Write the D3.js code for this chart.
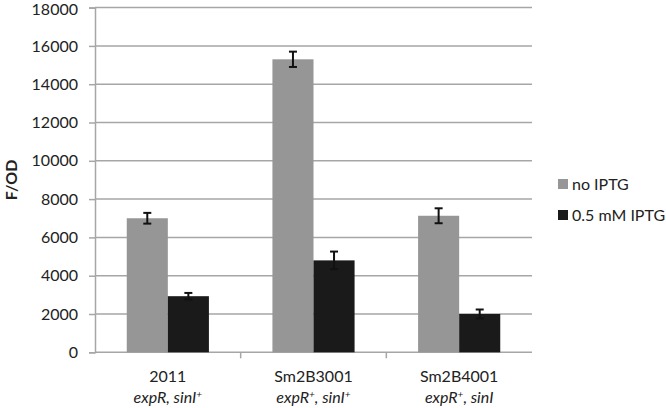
<!DOCTYPE html>
<html><head><meta charset="utf-8">
<script src="https://cdn.jsdelivr.net/npm/d3@7"></script>
<style>body{margin:0;background:#fff}svg{display:block}</style>
</head><body>
<svg id="c" width="666" height="408"></svg>
<script>
const categories = ["2011", "Sm2B3001", "Sm2B4001"];
const genotypes = [["expR, sinI", "+"], ["expR", "+", ", sinI", "+"], ["expR", "+", ", sinI", ""]];
const seriesNames = ["no IPTG", "0.5 mM IPTG"];
const noIPTG = [7000, 15300, 7130];
const noIPTGErr = [280, 400, 390];
const mmIPTG = [2930, 4800, 2000];
const mmIPTGErr = [170, 460, 235];
const yTicks = [0, 2000, 4000, 6000, 8000, 10000, 12000, 14000, 16000, 18000];
const colors = ["#969696", "#1a1a1a"];

const svg = d3.select("#c");
const font = "Lato, 'Open Sans', sans-serif";
const fs = 16;
const m = {l: 95, r: 532, t: 7.6, b: 352.3};
const y = d3.scaleLinear().domain([0, 18000]).range([m.b, m.t]);
const x = d3.scaleBand().domain(categories).range([m.l, m.r]).paddingInner(0).paddingOuter(0);
const bw = x.bandwidth() * 0.282;
const x1 = d3.scaleBand().domain(seriesNames).range([0, bw * 2]);

// gridlines
svg.append("g").selectAll("line").data(yTicks.filter(d => d > 0)).join("line")
  .attr("x1", m.l).attr("x2", m.r).attr("y1", d => y(d)).attr("y2", d => y(d))
  .attr("stroke", "#a6a6a6").attr("stroke-width", 1.5);

// y axis
const ya = svg.append("g").attr("transform", `translate(${m.l},0)`)
  .call(d3.axisLeft(y).tickValues(yTicks).tickSize(6).tickPadding(11).tickFormat(d3.format("d")));
ya.select(".domain").attr("stroke", "#a6a6a6").attr("stroke-width", 1.5);
ya.selectAll(".tick line").attr("stroke", "#a6a6a6").attr("stroke-width", 1.5);
ya.selectAll("text").attr("font-family", font).attr("font-size", fs).attr("fill", "#222");
ya.selectAll(".tick").filter(d => d === 18000).select("text").attr("dy", "0.4em");

// x axis
const xa = svg.append("g").attr("transform", `translate(0,${m.b})`);
xa.append("line").attr("x1", m.l).attr("x2", m.r).attr("y1", 0).attr("y2", 0)
  .attr("stroke", "#a6a6a6").attr("stroke-width", 1.5);
xa.selectAll(".tk").data(categories.slice(1)).join("line").attr("class", "tk")
  .attr("x1", d => x(d)).attr("x2", d => x(d)).attr("y1", 0).attr("y2", 6)
  .attr("stroke", "#a6a6a6").attr("stroke-width", 1.5);

const series = [
  {name: seriesNames[0], vals: noIPTG, err: noIPTGErr, color: colors[0]},
  {name: seriesNames[1], vals: mmIPTG, err: mmIPTGErr, color: colors[1]}
];
const bx = (s, i) => x(categories[i]) + x.bandwidth() / 2 - bw + x1(s.name);

series.forEach(s => {
  const g = svg.append("g");
  g.selectAll("rect").data(s.vals).join("rect")
    .attr("x", (d, i) => bx(s, i)).attr("width", x1.bandwidth())
    .attr("y", d => y(d)).attr("height", d => y(0) - y(d))
    .attr("fill", s.color);
  const eg = g.selectAll("g.e").data(s.vals).join("g").attr("class", "e");
  const cx = (i) => bx(s, i) + x1.bandwidth() / 2;
  eg.append("line").attr("x1", (d, i) => cx(i)).attr("x2", (d, i) => cx(i))
    .attr("y1", (d, i) => y(d + s.err[i])).attr("y2", (d, i) => y(d - s.err[i]))
    .attr("stroke", "#111").attr("stroke-width", 2);
  [1, -1].forEach(sg => {
    eg.append("line").attr("x1", (d, i) => cx(i) - 4).attr("x2", (d, i) => cx(i) + 4)
      .attr("y1", (d, i) => y(d + sg * s.err[i])).attr("y2", (d, i) => y(d + sg * s.err[i]))
      .attr("stroke", "#111").attr("stroke-width", 2);
  });
});

// category labels
const lab = svg.append("g").attr("font-family", font).attr("font-size", fs).attr("fill", "#222").attr("text-anchor", "middle");
categories.forEach((c, i) => {
  const cx = x(c) + x.bandwidth() / 2;
  lab.append("text").attr("x", cx).attr("y", 382).text(c);
  const t = lab.append("text").attr("x", cx).attr("y", 403).attr("font-style", "italic");
  const parts = genotypes[i];
  if (i === 0) {
    t.append("tspan").text("expR, sinI");
    t.append("tspan").attr("font-size", 10).attr("dy", -5).text("+");
  } else {
    t.append("tspan").text("expR");
    t.append("tspan").attr("font-size", 10).attr("dy", -5).text("+");
    t.append("tspan").attr("dy", 5).text(", sinI");
    if (parts[3]) t.append("tspan").attr("font-size", 10).attr("dy", -5).text("+");
  }
});

// y title
svg.append("text").attr("transform", "translate(17,180) rotate(-90)")
  .attr("text-anchor", "middle").attr("font-family", font).attr("font-weight", "bold")
  .attr("font-size", fs).attr("fill", "#222").text("F/OD");

// legend
const lg = svg.append("g");
series.forEach((s, i) => {
  const yy = 184 + i * 31;
  lg.append("rect").attr("x", 558).attr("y", yy - 5).attr("width", 10).attr("height", 10).attr("fill", s.color);
  lg.append("text").attr("x", 572).attr("y", yy + 5.5).attr("font-family", font).attr("font-size", fs)
    .attr("fill", "#222").text(s.name);
});
</script>
</body></html>
